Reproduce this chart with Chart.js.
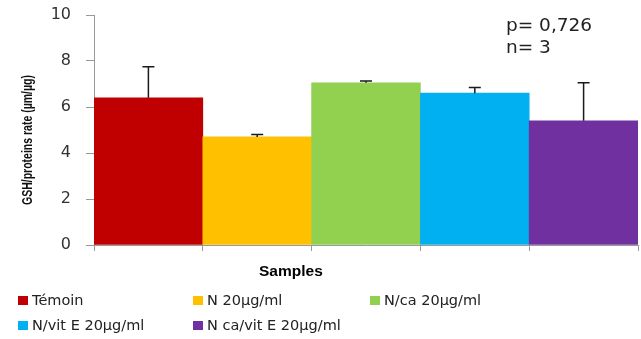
<!DOCTYPE html>
<html>
<head>
<meta charset="utf-8">
<script src="https://cdn.jsdelivr.net/npm/chart.js"></script>
<style>
body { margin: 0; background: #fff; }
#wrap { position: relative; width: 641px; height: 339px; }
#xtitle { position: absolute; left: 259px; top: 262px; font: bold 15.5px "Liberation Sans", Arial, sans-serif; color: #000; }
.leg { position: absolute; font: 14.5px "DejaVu Sans", Verdana, sans-serif; color: #222; white-space: nowrap; }
.leg span { display: inline-block; width: 10px; height: 9px; margin-right: 4px; }
</style>
</head>
<body>
<div id="wrap">
  <canvas id="grafica"></canvas>
  <div id="xtitle">Samples</div>
</div>
<script>
var muestras = ["Témoin", "N 20µg/ml", "N/ca 20µg/ml", "N/vit E 20µg/ml", "N ca/vit E 20µg/ml"];
var valores  = [6.4, 4.7, 7.05, 6.6, 5.4];
var errores  = [1.35, 0.1, 0.08, 0.25, 1.65];
var colores  = ["#c00000", "#ffc000", "#92d050", "#00b0f0", "#7030a0"];
var ticksY   = [0, 2, 4, 6, 8, 10];
var tituloY  = "GSH/proteins rate (µm/µg)";

// posiciones de la leyenda (columna, fila)
var legendaPos = [[18, 0], [193, 0], [370, 0], [18, 1], [193, 1]];

var wrap = document.getElementById("wrap");
for (var i = 0; i < muestras.length; i++) {
	var d = document.createElement("div");
	d.className = "leg";
	d.style.left = legendaPos[i][0] + "px";
	d.style.top = (292 + legendaPos[i][1] * 25) + "px";
	d.innerHTML = '<span style="background:' + colores[i] + '"></span>' + muestras[i];
	wrap.appendChild(d);
}

// barras de error (solo hacia arriba)
var errorBars = {
	id: 'errorBars',
	afterDatasetsDraw: function(chart) {
		var ctx = chart.ctx;
		var meta = chart.getDatasetMeta(0);
		var y = chart.scales.y;
		ctx.save();
		ctx.strokeStyle = "#1a1a1a";
		ctx.lineWidth = 1.5;
		for (var i = 0; i < meta.data.length; i++) {
			var bar = meta.data[i];
			var y0 = y.getPixelForValue(valores[i]);
			var y1 = y.getPixelForValue(valores[i] + errores[i]);
			ctx.beginPath();
			ctx.moveTo(bar.x, y0);
			ctx.lineTo(bar.x, y1);
			ctx.moveTo(bar.x - 6, y1);
			ctx.lineTo(bar.x + 6, y1);
			ctx.stroke();
		}
		ctx.restore();
	}
};

// textos: p / n y titulo del eje y (condensado)
var anotacion = {
	id: 'anotacion',
	afterDraw: function(chart) {
		var ctx = chart.ctx;
		ctx.save();
		ctx.fillStyle = "#222";
		ctx.font = '18.5px "DejaVu Sans", Verdana, sans-serif';
		ctx.textBaseline = "alphabetic";
		ctx.fillText("p= 0,726", 506, 31);
		ctx.fillText("n= 3", 506, 53);
		ctx.restore();

		ctx.save();
		ctx.fillStyle = "#111";
		ctx.font = 'bold 15.5px "Liberation Sans", Arial, sans-serif';
		ctx.textAlign = "center";
		ctx.textBaseline = "middle";
		var w = ctx.measureText(tituloY).width;
		ctx.translate(28, 140);
		ctx.rotate(-Math.PI / 2);
		ctx.scale(130 / w, 1);
		ctx.fillText(tituloY, 0, 0);
		ctx.restore();
	}
};

var grafica = new Chart(document.getElementById("grafica"), {
	type: 'bar',
	data: {
		labels: muestras,
		datasets: [{
			data: valores,
			backgroundColor: colores,
			borderWidth: 0,
			categoryPercentage: 1.0,
			barPercentage: 1.0
		}]
	},
	options: {
		responsive: true,
		maintainAspectRatio: false,
		animation: false,
		layout: { padding: { top: 15, right: 3, left: 0, bottom: 0 } },
		plugins: {
			legend: { display: false },
			tooltip: { enabled: false }
		},
		scales: {
			x: {
				grid: { drawOnChartArea: false, drawTicks: true, tickLength: 6, offset: true, color: "#999" },
				border: { color: "#999" },
				ticks: { display: false },
				afterFit: function(scale) { scale.height = 94; }
			},
			y: {
				min: 0,
				max: 10,
				afterBuildTicks: function(scale) {
					scale.ticks = ticksY.map(function(v) { return { value: v }; });
				},
				grid: { drawOnChartArea: false, drawTicks: true, tickLength: 8, color: "#999" },
				border: { color: "#999" },
				ticks: {
					color: "#333",
					padding: 15,
					font: { family: '"DejaVu Sans", Verdana, sans-serif', size: 16 }
				},
				afterFit: function(scale) {
					scale.width = 94;
					scale.paddingTop = 0;
					scale.paddingBottom = 0;
				}
			}
		}
	},
	plugins: [errorBars, anotacion]
});
</script>
</body>
</html>
